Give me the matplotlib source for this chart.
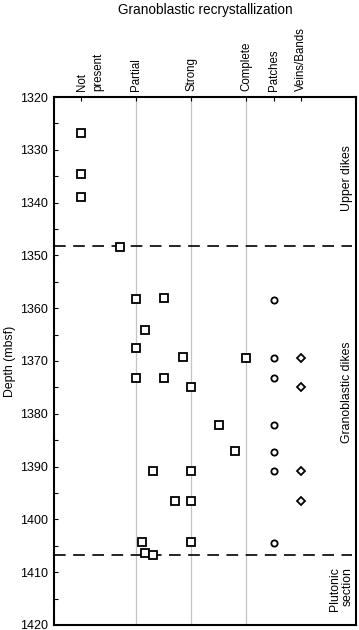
import numpy as np
import matplotlib
matplotlib.use("Agg")
import matplotlib.pyplot as plt

plt.rcParams['font.family'] = ['Liberation Sans', 'DejaVu Sans']

## Donnees
categories = ["Not\npresent", "Partial", "Strong", "Complete", "Patches", "Veins/Bands"]
cat_pos = [0, 1, 2, 3, 3.5, 4]

# intensite de recristallisation (0 = absent, 3 = complet)
sq_x = [0, 0, 0, 0.7,
        1.0, 1.5, 1.15, 1.0, 1.85, 3.0, 1.0, 1.5, 2.0, 2.5, 2.8,
        1.3, 2.0, 1.7, 2.0, 1.1, 2.0, 1.15, 1.3]
sq_depth = [1326.9, 1334.6, 1338.9, 1348.4,
            1358.3, 1358.1, 1364.1, 1367.6, 1369.2, 1369.5, 1373.3, 1373.3, 1375.0, 1382.2, 1387.1,
            1390.8, 1390.8, 1396.6, 1396.6, 1404.3, 1404.3, 1406.4, 1406.7]

patch_depth = [1358.4, 1369.5, 1373.3, 1382.2, 1387.2, 1390.8, 1404.4]
vein_depth = [1369.5, 1375.0, 1390.8, 1396.6]

boundaries = [1348.2, 1406.7]
units = ["Upper dikes", "Granoblastic dikes", "Plutonic\nsection"]
unit_depth = [1335.4, 1376.0, 1413.2]

fig = plt.figure(figsize=(3.59, 6.30), dpi=100)
ax = fig.add_axes([0.150, 0.008, 0.842, 0.838])

# lignes verticales grises
for xg in [1, 2, 3]:
    ax.axvline(xg, color='#c4c4c4', lw=0.9, zorder=1)

# limites des unites
for b in boundaries:
    ax.axhline(b, xmin=0, xmax=0.985, color='black', lw=1.2, dashes=(7, 4.5), zorder=2)

ax.plot(sq_x, sq_depth, ls='none', marker='s', ms=6, mfc='white', mec='black', mew=1.3, zorder=3)
ax.plot([3.5]*len(patch_depth), patch_depth, ls='none', marker='o', ms=4.5, mfc='white',
        mec='black', mew=1.3, zorder=3)
ax.plot([4]*len(vein_depth), vein_depth, ls='none', marker='D', ms=4.2, mfc='white',
        mec='black', mew=1.3, zorder=3)

ax.set_xlim(-0.5, 5)
ax.set_ylim(1420, 1320)
ax.set_yticks(np.arange(1320, 1421, 10))
ax.set_yticks(np.arange(1325, 1420, 10), minor=True)
ax.tick_params(axis='y', which='both', direction='in', length=3, width=0.8, labelsize=9, pad=4)

ax.xaxis.tick_top()
ax.set_xticks(cat_pos)
ax.set_xticklabels([])
ax.tick_params(axis='x', direction='in', length=3, width=0.8)

for i, (p, c) in enumerate(zip(cat_pos, categories)):
    if "\n" in c:
        ax.text(p - 0.1, 1.012, c, transform=ax.get_xaxis_transform(), rotation=90,
                ha='left', va='bottom', fontsize=8.3, linespacing=1.45)
    else:
        ax.text(p, 1.012, c, transform=ax.get_xaxis_transform(), rotation=90,
                ha='center', va='bottom', fontsize=8.3)

fig.text(0.572, 1 - 10/630, "Granoblastic recrystallization", fontsize=9.8, ha='center', va='center')
fig.text(10/359, 1 - 361/630, "Depth (mbsf)", fontsize=8.8, rotation=90, ha='center', va='center')

for u, d in zip(units, unit_depth):
    ax.text(4.95, d, u, rotation=90, ha='right', va='center', fontsize=8.8, linespacing=1.0)

for s in ax.spines.values():
    s.set_linewidth(1.5)

fig.savefig("out.png", dpi=100)
